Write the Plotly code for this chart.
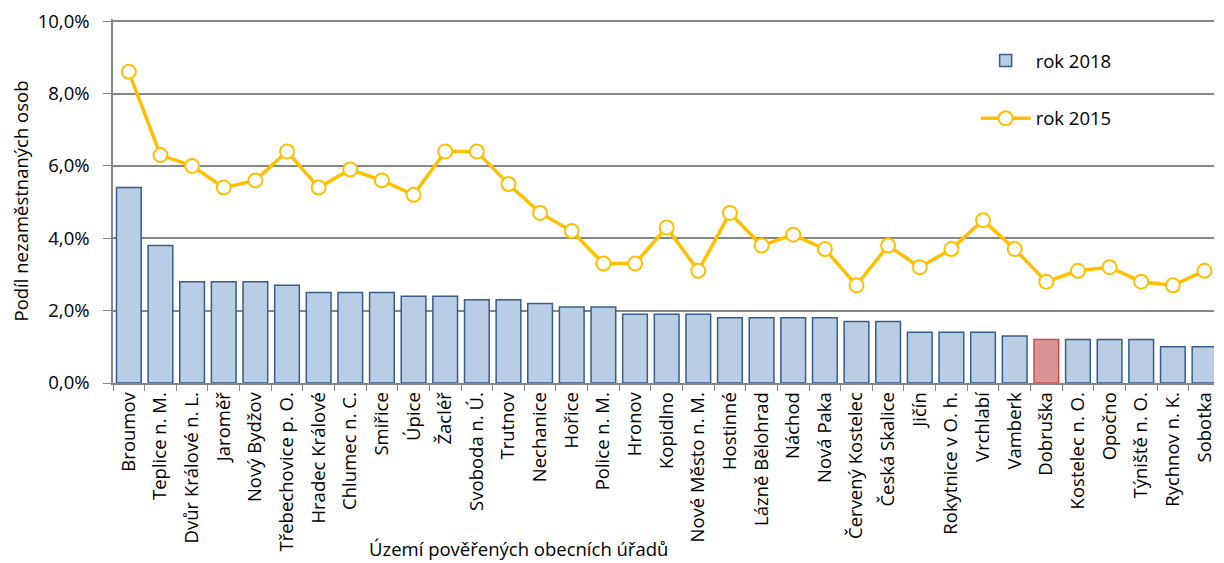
import plotly.graph_objects as go

categories = ["Broumov", "Teplice n. M.", "Dvůr Králové n. L.", "Jaroměř", "Nový Bydžov",
              "Třebechovice p. O.", "Hradec Králové", "Chlumec n. C.", "Smiřice", "Úpice",
              "Žacléř", "Svoboda n. Ú.", "Trutnov", "Nechanice", "Hořice", "Police n. M.",
              "Hronov", "Kopidlno", "Nové Město n. M.", "Hostinné", "Lázně Bělohrad", "Náchod",
              "Nová Paka", "Červený Kostelec", "Česká Skalice", "Jičín", "Rokytnice v O. h.",
              "Vrchlabí", "Vamberk", "Dobruška", "Kostelec n. O.", "Opočno", "Týniště n. O.",
              "Rychnov n. K.", "Sobotka"]
rok_2018 = [5.4, 3.8, 2.8, 2.8, 2.8, 2.7, 2.5, 2.5, 2.5, 2.4, 2.4, 2.3, 2.3, 2.2, 2.1, 2.1,
            1.9, 1.9, 1.9, 1.8, 1.8, 1.8, 1.8, 1.7, 1.7, 1.4, 1.4, 1.4, 1.3, 1.2, 1.2, 1.2,
            1.2, 1.0, 1.0]
rok_2015 = [8.6, 6.3, 6.0, 5.4, 5.6, 6.4, 5.4, 5.9, 5.6, 5.2, 6.4, 6.4, 5.5, 4.7, 4.2, 3.3,
            3.3, 4.3, 3.1, 4.7, 3.8, 4.1, 3.7, 2.7, 3.8, 3.2, 3.7, 4.5, 3.7, 2.8, 3.1, 3.2,
            2.8, 2.7, 3.1]
highlight = "Dobruška"
y_ticks = [0, 2, 4, 6, 8, 10]
y_tick_labels = ["0,0%", "2,0%", "4,0%", "6,0%", "8,0%", "10,0%"]

FONT = "Open Sans"
FS = 18.5
bar_fill = ["#D99594" if c == highlight else "#B9CDE5" for c in categories]
bar_line = ["#C0504D" if c == highlight else "#385D8A" for c in categories]

fig = go.Figure()
fig.add_trace(go.Bar(
    x=categories, y=rok_2018, name="rok 2018",
    marker=dict(color=bar_fill, line=dict(color=bar_line, width=1.5)),
    width=0.78, legend="legend",
))
fig.add_trace(go.Scatter(
    x=categories, y=rok_2015, name="rok 2015", mode="lines+markers",
    line=dict(color="#FFC000", width=3.5),
    marker=dict(size=14, color="white", line=dict(color="#FFC000", width=2)),
    legend="legend2",
))

fig.update_layout(
    width=1208, height=552,
    margin=dict(l=105, r=0, t=9.8, b=177),
    paper_bgcolor="white", plot_bgcolor="white",
    font=dict(family=FONT, size=FS, color="black"),
    showlegend=True,
    legend=dict(x=0.7835, y=0.885, xanchor="left", yanchor="middle",
                bgcolor="rgba(0,0,0,0)", font=dict(size=FS), itemwidth=50),
    legend2=dict(x=0.7835, y=0.726, xanchor="left", yanchor="middle",
                 bgcolor="rgba(0,0,0,0)", font=dict(size=FS), itemwidth=50),
    annotations=[dict(text="Území pověřených obecních úřadů", xref="paper", yref="paper",
                      x=0.368, y=-0.4545, xanchor="center", yanchor="middle",
                      showarrow=False, font=dict(size=FS))],
)
fig.update_xaxes(
    type="category", range=[-0.5, 34.3],
    tickangle=-90, ticks="outside", tickson="boundaries", ticklen=6,
    tickcolor="#868686", showline=True, linecolor="#868686", linewidth=1.5,
    showgrid=False, tickfont=dict(size=FS),
)
fig.update_yaxes(
    range=[0, 10.06], tickvals=y_ticks, ticktext=y_tick_labels,
    ticks="outside", ticklen=8, tickcolor="#868686",
    showline=True, linecolor="#868686", linewidth=1.5,
    showgrid=True, gridcolor="#868686", gridwidth=1.5,
    zeroline=False, ticklabeloverflow="allow", ticklabelstandoff=10,
    title=dict(text="Podíl nezaměstnaných osob", font=dict(size=FS), standoff=10),
    tickfont=dict(size=FS),
)
fig.write_html("out.html")
